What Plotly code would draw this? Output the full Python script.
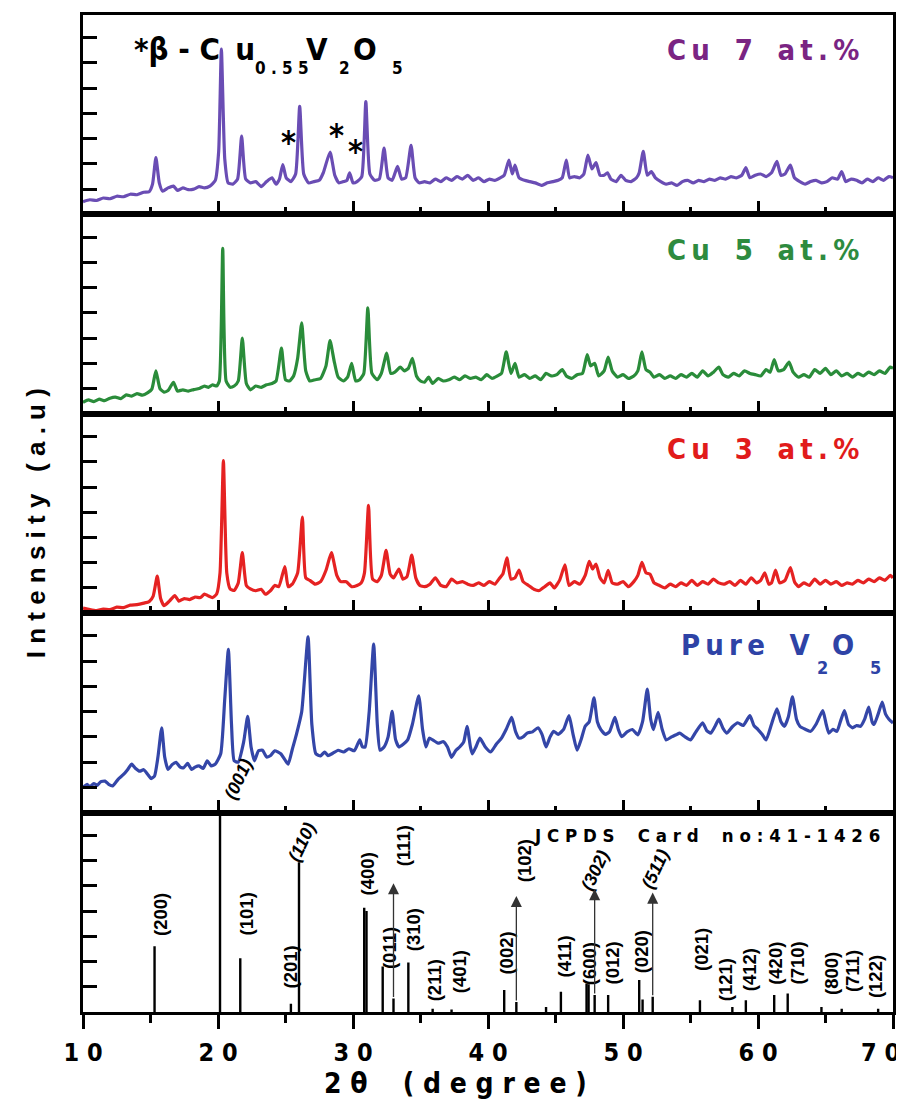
import plotly.graph_objects as go
from plotly.subplots import make_subplots

# ---------------- data ----------------
x_range = [10, 70]
tick_vals = [10, 20, 30, 40, 50, 60, 70]
tick_labels = ["1 0", "2 0", "3 0", "4 0", "5 0", "6 0", "7 0"]

# Cu 7 at.% (top panel)
cu7_x = [10.0, 10.5, 11.0, 11.5, 12.0, 12.5, 13.0, 13.5, 14.0, 14.5,
         14.9, 15.15, 15.4, 15.65, 15.9, 16.3, 16.7, 17.0, 17.4, 17.8,
         18.2, 18.6, 19.0, 19.4, 19.8, 20.05, 20.25, 20.5, 20.75, 21.1,
         21.45, 21.75, 22.05, 22.4, 22.8, 23.2, 23.6, 24.0, 24.3, 24.55,
         24.8, 25.05, 25.4, 25.75, 26.05, 26.35, 26.7, 27.1, 27.5, 27.8,
         28.3, 28.65, 28.95, 29.3, 29.55, 29.75, 30.0, 30.3, 30.65, 30.95,
         31.25, 31.6, 31.95, 32.3, 32.6, 32.9, 33.3, 33.6, 33.9, 34.3,
         34.6, 34.9, 35.3, 35.7, 36.1, 36.5, 36.9, 37.3, 37.7, 38.1,
         38.5, 38.9, 39.3, 39.7, 40.1, 40.5, 40.9, 41.2, 41.55, 41.8,
         42.0, 42.3, 42.7, 43.1, 43.5, 44.0, 44.4, 44.8, 45.2, 45.5,
         45.8, 46.05, 46.4, 46.8, 47.1, 47.4, 47.7, 48.0, 48.3, 48.6,
         48.85, 49.1, 49.5, 49.85, 50.2, 50.6, 51.0, 51.2, 51.5, 51.8,
         52.1, 52.4, 52.8, 53.2, 53.6, 54.0, 54.4, 54.8, 55.2, 55.6,
         56.0, 56.4, 56.8, 57.2, 57.6, 58.0, 58.4, 58.8, 59.1, 59.4,
         59.8, 60.2, 60.6, 61.0, 61.4, 61.7, 62.0, 62.4, 62.7, 63.1,
         63.5, 63.9, 64.3, 64.7, 65.1, 65.5, 65.9, 66.2, 66.5, 66.9,
         67.3, 67.7, 68.1, 68.5, 68.9, 69.3, 69.7, 70.0]
cu7_y = [0.50, 0.58, 0.55, 0.65, 0.62, 0.72, 0.70, 0.80, 0.78, 0.88,
         0.90, 1.20, 2.25, 1.25, 0.92, 1.05, 1.12, 0.95, 1.05, 0.98,
         1.00, 1.10, 1.05, 1.12, 1.35, 2.50, 6.55, 2.20, 1.25, 1.20,
         1.40, 3.10, 1.40, 1.25, 1.30, 1.10, 1.30, 1.45, 1.20, 1.40,
         1.97, 1.45, 1.30, 1.60, 4.28, 1.60, 1.25, 1.30, 1.35, 1.65,
         2.47, 1.55, 1.25, 1.30, 1.35, 1.65, 1.25, 1.30, 1.50, 4.47,
         1.60, 1.35, 1.40, 2.63, 1.45, 1.35, 1.90, 1.40, 1.45, 2.74,
         1.45, 1.25, 1.30, 1.25, 1.40, 1.30, 1.45, 1.35, 1.50, 1.40,
         1.55, 1.35, 1.45, 1.30, 1.40, 1.35, 1.45, 1.55, 2.15, 1.60,
         1.95, 1.45, 1.35, 1.30, 1.25, 1.15, 1.25, 1.30, 1.35, 1.45,
         2.15, 1.45, 1.50, 1.45, 1.60, 2.35, 1.80, 2.05, 1.55, 1.55,
         1.65, 1.40, 1.30, 1.55, 1.35, 1.30, 1.45, 1.65, 2.50, 1.55,
         1.70, 1.45, 1.30, 1.20, 1.25, 1.15, 1.30, 1.35, 1.25, 1.35,
         1.30, 1.40, 1.35, 1.45, 1.40, 1.50, 1.45, 1.55, 1.85, 1.45,
         1.55, 1.60, 1.50, 1.65, 2.10, 1.55, 1.60, 1.95, 1.45, 1.30,
         1.20, 1.30, 1.35, 1.25, 1.30, 1.45, 1.40, 1.70, 1.30, 1.40,
         1.35, 1.25, 1.40, 1.30, 1.45, 1.35, 1.50, 1.45]

# Cu 5 at.%
cu5_x = [10.0, 10.4, 10.8, 11.2, 11.6, 12.0, 12.4, 12.8, 13.2, 13.6,
         14.0, 14.4, 14.8, 15.1, 15.4, 15.7, 16.0, 16.3, 16.7, 17.0,
         17.4, 17.8, 18.2, 18.6, 19.0, 19.3, 19.6, 19.9, 20.1, 20.35,
         20.6, 20.9, 21.2, 21.5, 21.8, 22.1, 22.4, 22.8, 23.2, 23.6,
         24.0, 24.3, 24.7, 25.0, 25.3, 25.6, 25.9, 26.2, 26.5, 26.8,
         27.2, 27.6, 28.0, 28.3, 28.6, 28.9, 29.3, 29.6, 29.9, 30.2,
         30.5, 30.8, 31.1, 31.4, 31.8, 32.1, 32.5, 32.8, 33.1, 33.5,
         33.8, 34.1, 34.4, 34.7, 35.0, 35.3, 35.6, 35.9, 36.3, 36.7,
         37.1, 37.5, 37.9, 38.3, 38.7, 39.1, 39.5, 39.9, 40.3, 40.7,
         41.0, 41.35, 41.7, 42.0, 42.3, 42.7, 43.1, 43.5, 43.9, 44.3,
         44.7, 45.1, 45.5, 45.8, 46.2, 46.6, 47.0, 47.35, 47.6, 47.9,
         48.2, 48.6, 48.9, 49.2, 49.6, 50.0, 50.4, 50.8, 51.1, 51.4,
         51.7, 52.0, 52.3, 52.7, 53.1, 53.5, 53.9, 54.3, 54.7, 55.1,
         55.5, 55.9, 56.3, 56.7, 57.1, 57.4, 57.8, 58.2, 58.6, 59.0,
         59.4, 59.8, 60.2, 60.6, 60.9, 61.2, 61.5, 61.9, 62.3, 62.6,
         63.0, 63.4, 63.8, 64.2, 64.6, 65.0, 65.4, 65.8, 66.2, 66.6,
         67.0, 67.4, 67.8, 68.2, 68.6, 69.0, 69.4, 69.8, 70.0]
cu5_y = [0.45, 0.55, 0.48, 0.58, 0.52, 0.62, 0.66, 0.60, 0.75, 0.70,
         0.80, 0.74, 0.84, 0.98, 1.70, 1.00, 0.86, 0.92, 1.25, 0.90,
         0.95, 0.90, 0.96, 1.00, 1.10, 1.05, 1.15, 1.10, 1.30, 6.55,
         1.30, 1.05, 1.10, 1.30, 3.00, 1.20, 0.95, 1.10, 1.05, 1.15,
         1.20, 1.30, 2.60, 1.35, 1.30, 1.50, 2.20, 3.60, 1.70, 1.30,
         1.35, 1.40, 1.90, 2.90, 2.10, 1.45, 1.30, 1.45, 2.00, 1.30,
         1.35, 1.60, 4.20, 1.60, 1.35, 1.60, 2.40, 1.60, 1.65, 1.85,
         1.70, 1.80, 2.20, 1.50, 1.30, 1.25, 1.45, 1.20, 1.40, 1.30,
         1.35, 1.45, 1.35, 1.50, 1.40, 1.45, 1.35, 1.55, 1.40, 1.50,
         1.60, 2.45, 1.60, 2.00, 1.45, 1.55, 1.40, 1.50, 1.35, 1.60,
         1.50, 1.55, 1.75, 1.50, 1.40, 1.55, 1.60, 2.35, 1.90, 2.00,
         1.50, 1.70, 2.25, 1.70, 1.45, 1.55, 1.40, 1.50, 1.70, 2.45,
         1.75, 1.65, 1.45, 1.55, 1.40, 1.50, 1.40, 1.55, 1.45, 1.60,
         1.45, 1.70, 1.50, 1.65, 1.85, 1.55, 1.45, 1.60, 1.50, 1.70,
         1.60, 1.55, 1.50, 1.75, 1.65, 2.15, 1.70, 1.75, 2.05, 1.65,
         1.45, 1.55, 1.45, 1.75, 1.60, 1.80, 1.55, 1.70, 1.50, 1.60,
         1.45, 1.60, 1.50, 1.65, 1.55, 1.70, 1.60, 1.85, 1.80]

# Cu 3 at.%
cu3_x = [10.0, 10.5, 11.0, 11.5, 12.0, 12.5, 13.0, 13.5, 14.0, 14.5,
         14.9, 15.2, 15.5, 15.75, 16.0, 16.4, 16.8, 17.1, 17.5, 17.9,
         18.3, 18.7, 19.0, 19.3, 19.6, 19.9, 20.15, 20.4, 20.65, 20.9,
         21.2, 21.5, 21.8, 22.1, 22.4, 22.8, 23.2, 23.5, 23.9, 24.2,
         24.5, 24.95, 25.2, 25.5, 25.9, 26.25, 26.5, 26.8, 27.2, 27.6,
         28.0, 28.4, 28.8, 29.1, 29.5, 29.9, 30.3, 30.6, 30.85, 31.15,
         31.45, 31.8, 32.1, 32.45, 32.75, 33.0, 33.4, 33.7, 34.0, 34.35,
         34.65, 34.95, 35.3, 35.7, 36.1, 36.5, 36.9, 37.3, 37.7, 38.1,
         38.5, 38.9, 39.3, 39.7, 40.1, 40.5, 40.8, 41.1, 41.4, 41.7,
         42.0, 42.3, 42.6, 43.0, 43.4, 43.8, 44.2, 44.6, 44.9, 45.3,
         45.7, 46.0, 46.4, 46.8, 47.2, 47.5, 47.75, 48.0, 48.3, 48.6,
         48.9, 49.2, 49.6, 50.0, 50.4, 50.8, 51.1, 51.4, 51.7, 52.0,
         52.3, 52.7, 53.1, 53.5, 53.9, 54.3, 54.7, 55.1, 55.5, 55.9,
         56.3, 56.7, 57.1, 57.5, 57.9, 58.3, 58.7, 59.1, 59.5, 59.9,
         60.2, 60.5, 60.8, 61.0, 61.3, 61.6, 62.0, 62.4, 62.7, 63.0,
         63.4, 63.8, 64.2, 64.6, 65.0, 65.4, 65.8, 66.2, 66.6, 67.0,
         67.4, 67.8, 68.2, 68.6, 69.0, 69.4, 69.8, 70.0]
cu3_y = [0.20, 0.14, 0.10, 0.16, 0.14, 0.24, 0.22, 0.32, 0.34, 0.40,
         0.46, 0.68, 1.47, 0.58, 0.30, 0.48, 0.70, 0.48, 0.58, 0.54,
         0.64, 0.62, 0.76, 0.68, 0.62, 0.76, 1.60, 6.05, 1.60, 0.96,
         0.90, 1.20, 2.40, 1.10, 0.96, 0.89, 0.95, 0.75, 0.90, 1.10,
         1.05, 1.85, 1.05, 1.15, 1.60, 3.81, 1.40, 1.30, 1.15, 1.25,
         1.70, 2.40, 1.50, 1.25, 1.25, 1.05, 1.10, 1.20, 1.60, 4.27,
         1.35, 1.25, 1.50, 2.49, 1.55, 1.40, 1.75, 1.35, 1.45, 2.30,
         1.40, 1.10, 1.05, 1.15, 1.40, 1.10, 1.05, 1.35, 1.20, 1.25,
         1.15, 1.10, 1.20, 1.10, 1.25, 1.15, 1.35, 1.55, 2.19, 1.35,
         1.40, 1.71, 1.25, 1.10, 0.95, 0.90, 1.05, 1.20, 1.00, 1.30,
         1.92, 1.10, 1.25, 1.15, 1.50, 2.05, 1.75, 1.95, 1.40, 1.20,
         1.70, 1.20, 1.15, 1.25, 1.05, 1.25, 1.50, 2.01, 1.60, 1.55,
         1.20, 1.10, 1.00, 1.15, 1.05, 1.20, 1.10, 1.30, 1.10, 1.25,
         1.15, 1.35, 1.20, 1.15, 1.25, 1.10, 1.30, 1.15, 1.40, 1.20,
         1.30, 1.60, 1.15, 1.20, 1.71, 1.20, 1.30, 1.81, 1.25, 1.05,
         1.20, 1.10, 1.35, 1.15, 1.30, 1.15, 1.25, 1.10, 1.20, 1.15,
         1.30, 1.20, 1.35, 1.25, 1.40, 1.30, 1.50, 1.40]

# Pure V2O5
v2o5_x = [10.0, 10.3, 10.5, 10.8, 11.05, 11.3, 11.63, 11.9, 12.2, 12.6,
          13.0, 13.3, 13.6, 13.9, 14.2, 14.5, 14.8, 15.05, 15.3, 15.55,
          15.83, 16.05, 16.3, 16.6, 16.9, 17.2, 17.46, 17.75, 18.05, 18.3,
          18.6, 18.9, 19.2, 19.5, 19.8, 20.2, 20.5, 20.77, 21.0, 21.2,
          21.5, 21.9, 22.2, 22.45, 22.7, 23.0, 23.3, 23.6, 23.9, 24.2,
          24.65, 24.95, 25.2, 25.5, 25.8, 26.2, 26.67, 26.95, 27.25, 27.6,
          27.9, 28.15, 28.5, 28.9, 29.3, 29.7, 30.1, 30.5, 30.7, 30.9,
          31.2, 31.53, 31.8, 32.0, 32.3, 32.6, 32.9, 33.15, 33.4, 33.7,
          34.05, 34.4, 34.87, 35.15, 35.4, 35.65, 35.9, 36.3, 36.7, 37.0,
          37.3, 37.6, 37.9, 38.2, 38.45, 38.7, 38.84, 39.1, 39.4, 39.8,
          40.2, 40.6, 41.0, 41.35, 41.75, 42.05, 42.3, 42.6, 42.9, 43.3,
          43.7, 44.0, 44.3, 44.6, 44.86, 45.2, 45.6, 46.0, 46.3, 46.6,
          46.9, 47.2, 47.5, 47.85, 48.1, 48.36, 48.7, 49.0, 49.4, 49.65,
          49.9, 50.3, 50.7, 51.1, 51.45, 51.8, 52.05, 52.25, 52.6, 52.9,
          53.2, 53.6, 54.0, 54.2, 54.6, 55.0, 55.4, 55.9, 56.2, 56.5,
          56.8, 57.1, 57.4, 57.7, 58.1, 58.5, 58.9, 59.4, 59.7, 60.0,
          60.3, 60.6, 61.0, 61.4, 61.7, 61.96, 62.25, 62.55, 62.85, 63.1,
          63.5, 63.9, 64.3, 64.8, 65.05, 65.25, 65.55, 65.85, 66.1, 66.4,
          66.7, 67.0, 67.3, 67.6, 67.9, 68.2, 68.45, 68.6, 68.9, 69.2,
          69.45, 69.7, 70.0]
v2o5_y = [1.00, 1.12, 1.02, 1.15, 1.08, 1.22, 1.25, 1.12, 1.06, 1.32,
          1.51, 1.70, 1.92, 1.75, 1.64, 1.70, 1.51, 1.35, 1.45, 2.20,
          3.36, 2.20, 1.71, 1.90, 1.99, 1.80, 1.78, 1.95, 1.71, 1.80,
          1.85, 1.75, 2.05, 1.85, 1.92, 2.33, 4.50, 6.47, 3.50, 2.05,
          2.00, 2.80, 3.81, 2.60, 2.05, 2.45, 2.47, 2.20, 2.26, 2.45,
          2.33, 2.10, 1.92, 2.50, 3.08, 4.00, 6.96, 3.50, 2.33, 2.25,
          2.40, 2.26, 2.35, 2.47, 2.40, 2.53, 2.45, 2.88, 2.60, 2.60,
          4.00, 6.68, 3.50, 2.47, 2.60, 3.00, 4.01, 2.90, 2.60, 2.70,
          2.88, 3.50, 4.63, 3.30, 2.60, 2.95, 2.88, 2.75, 2.81, 2.60,
          2.19, 2.45, 2.60, 2.80, 3.42, 2.60, 2.33, 2.60, 2.95, 2.60,
          2.40, 2.70, 2.95, 3.30, 3.77, 3.20, 2.95, 3.00, 3.15, 3.20,
          3.36, 3.10, 2.60, 3.00, 3.22, 3.10, 3.30, 3.84, 3.10, 2.47,
          2.90, 3.42, 3.60, 4.55, 3.60, 3.29, 3.10, 3.20, 3.77, 3.30,
          3.01, 3.20, 3.29, 3.08, 3.60, 4.89, 3.70, 3.29, 3.97, 3.30,
          2.88, 3.00, 3.10, 3.15, 3.00, 2.88, 3.20, 3.56, 3.25, 3.15,
          3.40, 3.70, 3.35, 3.15, 3.40, 3.56, 3.45, 3.84, 3.45, 3.29,
          3.10, 2.88, 3.50, 4.11, 3.60, 3.42, 3.80, 4.59, 3.70, 3.42,
          3.30, 3.22, 3.50, 4.04, 3.50, 3.15, 3.30, 3.22, 3.60, 4.04,
          3.50, 3.36, 3.45, 3.42, 3.70, 4.18, 3.60, 3.49, 3.90, 4.38,
          3.90, 3.70, 3.55]

# JCPDS card 41-1426 stick pattern
jcpds_pos = [15.3, 20.15, 21.65, 25.4, 26.0, 30.83, 31.0, 32.2, 33.0, 34.1,
             35.9, 37.3, 41.2, 42.1, 44.3, 45.4, 47.3, 47.45, 47.9, 48.9,
             51.2, 51.45, 52.2, 55.7, 58.1, 59.1, 61.2, 62.2, 64.7, 66.2, 68.9]
jcpds_int = [2.6, 8.5, 2.13, 0.33, 5.93, 4.13, 4.0, 1.8, 0.53, 1.96,
             0.13, 0.1, 0.87, 0.4, 0.2, 0.8, 1.13, 1.1, 0.67, 0.67,
             1.27, 0.5, 0.6, 0.47, 0.2, 0.47, 0.67, 0.73, 0.2, 0.13, 0.13]
# arrows marking overlapping reflections
arrow_pos = [33.0, 42.1, 47.9, 52.2]
arrow_base = [0.53, 0.4, 0.67, 0.6]
arrow_tip = [5.1, 4.6, 4.87, 4.73]

# hkl labels
hkl_text = ["(200)", "(101)", "(201)", "(110)", "(400)", "(011)", "(111)", "(310)",
            "(211)", "(401)", "(002)", "(102)", "(411)", "(600)", "(302)", "(012)",
            "(020)", "(511)", "(021)", "(121)", "(412)", "(420)", "(710)", "(800)",
            "(711)", "(122)"]
hkl_x = [15.75, 22.08, 25.4, 26.2, 31.07, 32.66, 33.77, 34.5,
         36.1, 37.9, 41.36, 42.72, 45.7, 47.48, 47.9, 49.2,
         51.4, 52.4, 55.8, 57.65, 59.43, 61.3, 62.9, 65.45,
         67.0, 68.7]
hkl_y = [3.87, 3.87, 1.8, 6.75, 5.47, 2.53, 6.6, 3.27,
         1.27, 1.6, 2.33, 6.0, 2.2, 1.93, 5.6, 1.93,
         2.4, 5.67, 2.47, 1.27, 1.67, 1.93, 1.93, 1.53,
         1.6, 1.4]
hkl_slanted = ["(110)", "(302)", "(511)"]

# asterisks marking beta-Cu0.55V2O5 peaks (Cu 7 at.% panel)
star_x = [25.25, 28.75, 30.15]
star_y = [2.85, 3.15, 2.5]

# ---------------- styling ----------------
NARROW = "Liberation Sans Narrow, DejaVu Sans Condensed, Liberation Sans, Arial"
ARIAL = "Liberation Sans, Arial"
purple_line, purple_text = "#6a4db4", "#7a2483"
green_line, green_text = "#2a8c3a", "#2e8b3f"
red_line, red_text = "#e52222", "#e11b1b"
blue_line, blue_text = "#3446a8", "#2e43a6"
THIN = "\u2009"
NB = "\u00a0"


def sp(s, gap=NB, word=NB + NB):
    return gap.join(word if c == " " else c for c in s)


fig = make_subplots(rows=5, cols=1, vertical_spacing=0)

for row, (xs, ys, col) in enumerate([(cu7_x, cu7_y, purple_line),
                                     (cu5_x, cu5_y, green_line),
                                     (cu3_x, cu3_y, red_line),
                                     (v2o5_x, v2o5_y, blue_line)], start=1):
    fig.add_trace(go.Scatter(x=xs, y=ys, mode="lines",
                             line=dict(color=col, width=3.2, shape="spline", smoothing=0.5),
                             showlegend=False, hoverinfo="skip"), row=row, col=1)

stick_x, stick_y = [], []
for p, h in zip(jcpds_pos, jcpds_int):
    stick_x += [p, p, None]
    stick_y += [0, h, None]
fig.add_trace(go.Scatter(x=stick_x, y=stick_y, mode="lines",
                         line=dict(color="black", width=2.4),
                         showlegend=False, hoverinfo="skip"), row=5, col=1)

for r in range(1, 6):
    bottom = r == 5
    fig.update_xaxes(range=x_range, tick0=10, dtick=10, automargin=False,
                     ticks="outside" if bottom else "inside",
                     ticklen=14 if bottom else 13, tickwidth=3, tickcolor="black",
                     minor=dict(dtick=5, tick0=10, ticks="outside" if bottom else "inside",
                                ticklen=8 if bottom else 7, tickwidth=3, tickcolor="black"),
                     showline=True, linewidth=3, linecolor="black", mirror=True,
                     showgrid=False, zeroline=False,
                     showticklabels=bottom, row=r, col=1)
    fig.update_yaxes(range=[0, 7.9], tickvals=[1, 2, 3, 4, 5, 6, 7], automargin=False,
                     ticks="inside", ticklen=14, tickwidth=3, tickcolor="black",
                     showticklabels=False,
                     showline=True, linewidth=3, linecolor="black", mirror=True,
                     showgrid=False, zeroline=False, row=r, col=1)

# the last tick label would be cut by the page edge, so it is drawn as a
# right-aligned annotation instead
axis_text = tick_labels[:-1] + [""]
fig.update_xaxes(tickvals=tick_vals, ticktext=axis_text,
                 tickfont=dict(family=NARROW, size=25, color="black", weight="bold"),
                 ticklabelstandoff=2, ticklabeloverflow="allow", row=5, col=1)

ann = []


def label(text, x, y, xref, yref, size, color, xanchor="center", yanchor="middle",
          angle=0, family=NARROW):
    ann.append(dict(text=text, x=x, y=y, xref=xref, yref=yref, showarrow=False,
                    xanchor=xanchor, yanchor=yanchor, textangle=angle,
                    font=dict(family=family, size=size, color=color)))


label("<b>" + tick_labels[-1] + "</b>", 1.0115, -0.0405, "paper", "paper", 25, "black",
      xanchor="right")

# sample labels
big = 29
WG = NB + THIN
label("<b>" + sp("Cu 7 at.%", THIN, WG) + "</b>", 67.6, 6.5, "x", "y", big, purple_text, xanchor="right")
label("<b>" + sp("Cu 5 at.%", THIN, WG) + "</b>", 67.6, 6.5, "x2", "y2", big, green_text, xanchor="right")
label("<b>" + sp("Cu 3 at.%", THIN, WG) + "</b>", 67.6, 6.5, "x3", "y3", big, red_text, xanchor="right")
label("<b>" + sp("Pure V", THIN, WG) + "</b>", 64.1, 6.64, "x4", "y4", big, blue_text, xanchor="right")
label("<b>2</b>", 64.8, 5.73, "x4", "y4", 18, blue_text)
label("<b>O</b>", 66.3, 6.64, "x4", "y4", big, blue_text)
label("<b>5</b>", 68.7, 5.73, "x4", "y4", 18, blue_text)

# beta-Cu0.55V2O5 legend text
label("<b>*β" + NB + "-" + NB + "C" + THIN + NB + "u</b>", 13.6, 6.55, "x", "y", 31, "black",
      xanchor="left")
label("<b>" + sp("0.55") + "</b>", 22.6, 5.8, "x", "y", 17, "black", xanchor="left")
label("<b>V</b>", 27.3, 6.55, "x", "y", 31, "black")
label("<b>2</b>", 29.4, 5.8, "x", "y", 17, "black")
label("<b>O</b>", 30.9, 6.55, "x", "y", 31, "black")
label("<b>5</b>", 33.3, 5.8, "x", "y", 17, "black")
for sx, sy in zip(star_x, star_y):
    label("<b>*</b>", sx, sy, "x", "y", 32, "black")

# JCPDS text
label("<b>" + sp("JCPDS Card no:41-1426") + "</b>", 69.2, 7.0, "x5", "y5", 18.5, "black",
      xanchor="right")

# hkl labels
for t, hx, hy in zip(hkl_text, hkl_x, hkl_y):
    if t in hkl_slanted:
        label("<b><i>" + t + "</i></b>", hx, hy, "x5", "y5", 18, "black", angle=-65,
              family=ARIAL)
    else:
        label("<b>" + t + "</b>", hx, hy, "x5", "y5", 18.5, "black", angle=-90, family=ARIAL)
# (001) label sits above the card panel
label("<b><i>(001)</i></b>", 21.5, 1.34, "x4", "y4", 18, "black", angle=-65, family=ARIAL)

# arrows
for ap, ab, at in zip(arrow_pos, arrow_base, arrow_tip):
    ann.append(dict(x=ap, y=at, ax=ap, ay=ab, xref="x5", yref="y5", axref="x5", ayref="y5",
                    text="", showarrow=True, arrowhead=2, arrowsize=1.7, arrowwidth=1.3,
                    arrowcolor="#333333", standoff=0, startstandoff=0))

# axis titles
label("<b>" + sp("Intensity (a.u)", NB, NB) + "</b>", -0.057, 0.49, "paper", "paper", 26,
      "black", angle=-90, family=ARIAL)
label("<b>" + sp("2θ (degree)", NB, NB + NB) + "</b>", 0.46, -0.072, "paper", "paper", 28,
      "black")

# the page body adds an 8 px offset, so the figure is drawn 8 px smaller
fig.update_layout(width=896, height=1112,
                  margin=dict(l=75, r=11, t=7, b=108, autoexpand=False),
                  paper_bgcolor="white", plot_bgcolor="white",
                  annotations=ann, showlegend=False)

fig.write_html("out.html")
